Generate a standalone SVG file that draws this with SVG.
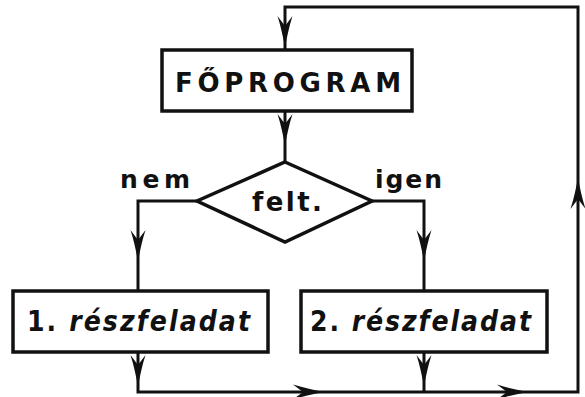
<svg xmlns="http://www.w3.org/2000/svg" width="585" height="397" viewBox="0 0 585 397">
<style>
.ln{fill:none;stroke:#111;stroke-width:3;stroke-linejoin:miter}
.bx{fill:#fff;stroke:#111;stroke-width:3.5}
.t{font-family:"DejaVu Sans",sans-serif;fill:#111;font-weight:bold}
.tc{font-family:"DejaVu Sans Condensed","DejaVu Sans",sans-serif;fill:#111;font-weight:bold}
.ah{fill:#111}
</style>
<defs>
<path id="ah" class="ah" d="M0,0 C-2,-10 -4,-20 -7.5,-31 L0,-21 L7.5,-31 C4,-20 2,-10 0,0 Z"/>
</defs>
<g id="connectors">
<polyline class="ln" points="285,50 285,7 578,7 578,392 138,392 138,352"/>
<line class="ln" x1="285" y1="111" x2="285" y2="162"/>
<polyline class="ln" points="197,201 138,201 138,291"/>
<polyline class="ln" points="372,201 424,201 424,291"/>
<line class="ln" x1="424" y1="352" x2="424" y2="392"/>
<use href="#ah" transform="translate(285,47)"/>
<use href="#ah" transform="translate(285,145)"/>
<use href="#ah" transform="translate(138,261)"/>
<use href="#ah" transform="translate(424,261)"/>
<use href="#ah" transform="translate(138,386)"/>
<use href="#ah" transform="translate(424,386)"/>
<use href="#ah" transform="translate(324,392) rotate(-90)"/>
<use href="#ah" transform="translate(528,392) rotate(-90)"/>
<use href="#ah" transform="translate(578,178) rotate(180)"/>
</g>
<g id="foprogram">
<rect class="bx" x="162" y="50" width="250" height="61"/>
<text class="t" x="175" y="92" font-size="26" textLength="226" lengthAdjust="spacing">FŐPROGRAM</text>
</g>
<g id="felt">
<polygon class="bx" points="285,162 372,201 285,242 197,201"/>
<text class="t" x="252" y="211" font-size="26" textLength="70" lengthAdjust="spacing">felt.</text>
</g>
<g id="labels">
<text class="t" x="120" y="188" font-size="25" textLength="70" lengthAdjust="spacing">nem</text>
<text class="t" x="375" y="188" font-size="25" textLength="67" lengthAdjust="spacing">igen</text>
</g>
<g id="reszfeladat1">
<rect class="bx" x="13" y="291" width="255" height="61"/>
<text class="tc" x="27" y="331" font-size="28" textLength="223" lengthAdjust="spacing">1.<tspan font-style="italic"> részfeladat</tspan></text>
</g>
<g id="reszfeladat2">
<rect class="bx" x="301" y="291" width="246" height="61"/>
<text class="tc" x="310" y="331" font-size="28" textLength="221" lengthAdjust="spacing">2.<tspan font-style="italic"> részfeladat</tspan></text>
</g>
</svg>
